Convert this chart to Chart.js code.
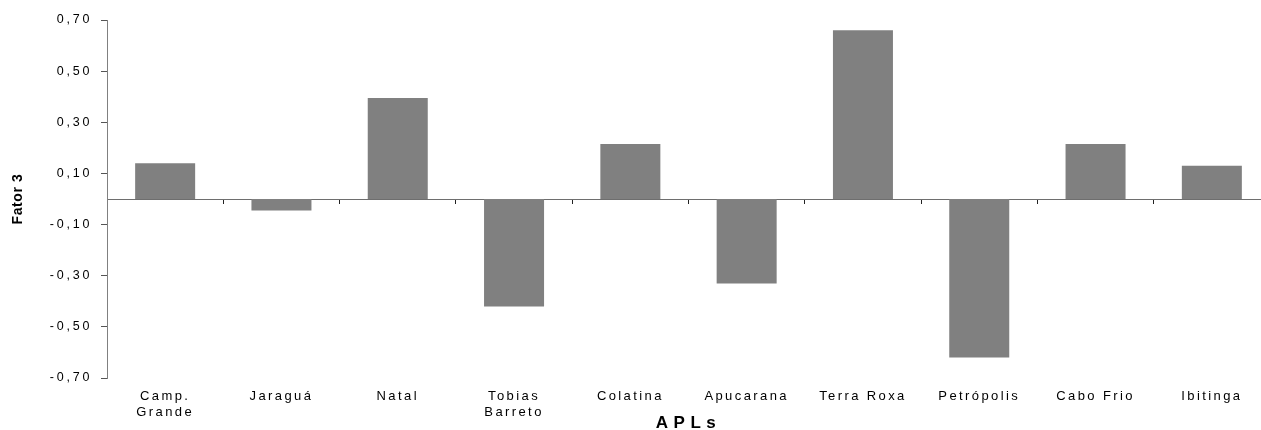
<!DOCTYPE html>
<html>
<head>
<meta charset="utf-8">
<script src="https://cdn.jsdelivr.net/npm/chart.js@4"></script>
<style>
  html, body { margin: 0; padding: 0; overflow: hidden; background: #fff; }
  #wrap { width: 1270px; height: 430px; position: relative; }
</style>
</head>
<body>
<div id="wrap"><canvas id="c"></canvas></div>
<script>
const categories = [['Camp.', 'Grande'], 'Jaraguá', 'Natal', ['Tobias', 'Barreto'], 'Colatina', 'Apucarana', 'Terra Roxa', 'Petrópolis', 'Cabo Frio', 'Ibitinga'];
const fator3 = [0.14, -0.045, 0.395, -0.42, 0.215, -0.33, 0.66, -0.62, 0.215, 0.13];
const yTickValues = [-0.7, -0.5, -0.3, -0.1, 0.1, 0.3, 0.5, 0.7];
const yTickLabels = ['-0,70', '-0,50', '-0,30', '-0,10', '0,10', '0,30', '0,50', '0,70'];
const xTitle = 'APLs';
const yTitle = 'Fator 3';

const FONT = "'Liberation Sans', Arial, sans-serif";
const spacing = {
  x: { labels: '2.4px', title: '5.5px' },
  y: { labels: '2.8px', title: '0.6px' }
};

const letterSpacingPlugin = {
  id: 'letterSpacingPlugin',
  afterUpdate(chart) {
    Object.keys(chart.scales).forEach(id => {
      const s = chart.scales[id];
      const cfg = spacing[id];
      if (!cfg || s._lsWrapped) return;
      s._lsWrapped = true;
      const origLabels = s.drawLabels;
      const origTitle = s.drawTitle;
      s.drawLabels = function (area) {
        const ctx = this.ctx; ctx.save(); ctx.letterSpacing = cfg.labels;
        origLabels.call(this, area); ctx.restore();
      };
      s.drawTitle = function () {
        const ctx = this.ctx; ctx.save(); ctx.letterSpacing = cfg.title;
        origTitle.call(this); ctx.restore();
      };
    });
  }
};

new Chart(document.getElementById('c'), {
  type: 'bar',
  data: {
    labels: categories,
    datasets: [{
      data: fator3,
      backgroundColor: '#808080',
      borderWidth: 0,
      categoryPercentage: 1,
      barPercentage: 0.516,
      xAxisID: 'x',
      yAxisID: 'y'
    }]
  },
  options: {
    responsive: true,
    maintainAspectRatio: false,
    animation: false,
    layout: { padding: { top: 20, left: 0, right: 0, bottom: 0 } },
    plugins: { legend: { display: false }, tooltip: { enabled: false } },
    scales: {
      x: {
        type: 'category',
        position: 'bottom',
        offset: true,
        grid: { display: false, drawTicks: false, offset: true },
        border: { display: false },
        ticks: {
          color: '#000',
          font: { family: FONT, size: 13, lineHeight: 1.2 },
          padding: 11,
          maxRotation: 0,
          minRotation: 0,
          autoSkip: false
        },
        title: {
          display: true,
          text: xTitle,
          color: '#000',
          font: { family: FONT, size: 17, weight: 'bold', lineHeight: 0.8 },
          padding: { top: 0, bottom: 0 }
        },
        afterFit(scale) { scale.height = 52; }
      },
      x0: {
        type: 'category',
        axis: 'x',
        position: { y: 0 },
        offset: true,
        z: 1,
        grid: {
          display: true,
          drawOnChartArea: false,
          drawTicks: true,
          tickLength: 4,
          tickColor: '#222',
          offset: true
        },
        border: { display: true, color: '#6e6e6e', width: 1 },
        ticks: { display: false }
      },
      y: {
        type: 'linear',
        position: 'left',
        min: -0.7,
        max: 0.7,
        afterBuildTicks(scale) {
          scale.ticks = yTickValues.map(v => ({ value: v }));
        },
        grid: {
          display: true,
          drawOnChartArea: false,
          drawTicks: true,
          tickLength: 6,
          tickColor: '#555'
        },
        border: { display: true, color: '#808080', width: 1 },
        ticks: {
          color: '#000',
          font: { family: FONT, size: 12.5 },
          padding: 8.7,
          callback: (v, i) => yTickLabels[i]
        },
        title: {
          display: true,
          text: yTitle,
          color: '#000',
          font: { family: FONT, size: 14, weight: 'bold', lineHeight: 1.2 },
          padding: { top: 9.3, bottom: 0 }
        },
        afterFit(scale) { scale.width = 107; }
      }
    }
  },
  plugins: [letterSpacingPlugin]
});
</script>
</body>
</html>
